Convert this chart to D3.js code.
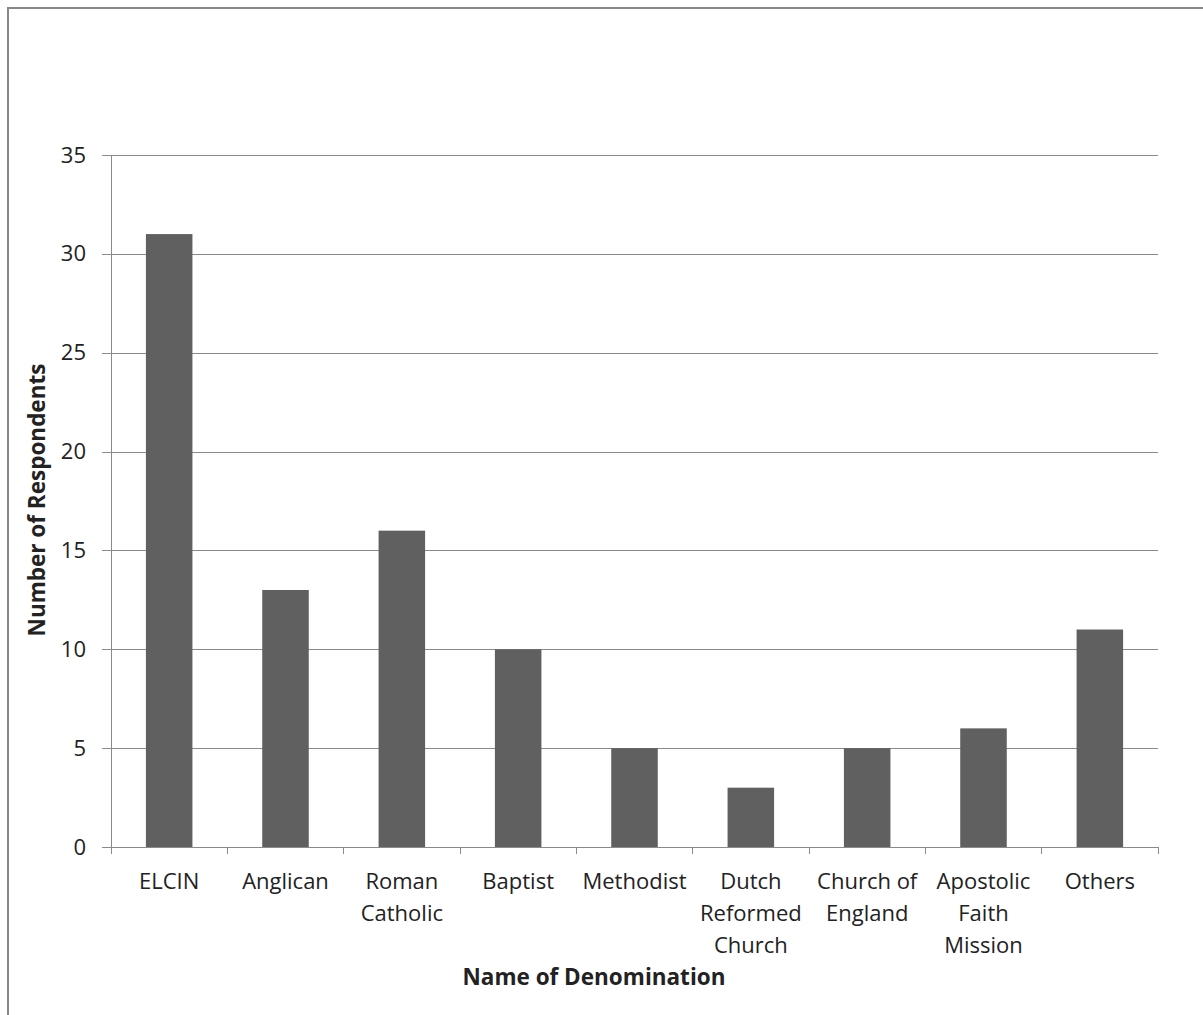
<!DOCTYPE html>
<html>
<head>
<meta charset="utf-8">
<script src="https://cdn.jsdelivr.net/npm/d3@7"></script>
<style>
  html, body { margin: 0; padding: 0; background: #fff; }
  svg { display: block; }
  text { font-family: "Open Sans", "Noto Sans", sans-serif; fill: #222; }
</style>
</head>
<body>
<svg id="chart" width="1203" height="1015"></svg>
<script>
const categories = ["ELCIN", "Anglican", "Roman Catholic", "Baptist", "Methodist",
  "Dutch Reformed Church", "Church of England", "Apostolic Faith Mission", "Others"];
const categoryLabelLines = [["ELCIN"], ["Anglican"], ["Roman", "Catholic"], ["Baptist"], ["Methodist"],
  ["Dutch", "Reformed", "Church"], ["Church of", "England"], ["Apostolic", "Faith", "Mission"], ["Others"]];
const respondents = [31, 13, 16, 10, 5, 3, 5, 6, 11];
const yTicks = [0, 5, 10, 15, 20, 25, 30, 35];
const yTitle = "Number of Respondents";
const xTitle = "Name of Denomination";

(function () {
const svg = d3.select("#chart");
const pLeft = 111, pRight = 1158, pTop = 155, pBottom = 847;

// outer frame
svg.append("rect").attr("x", 8).attr("y", 8).attr("width", 1220).attr("height", 1030)
  .attr("fill", "none").attr("stroke", "#888").attr("stroke-width", 2);

const x = d3.scaleBand().domain(categories).range([pLeft, pRight]).paddingInner(0.6).paddingOuter(0.3);
const y = d3.scaleLinear().domain([0, 35]).range([pBottom, pTop]);

// gridlines + y ticks
const yAxis = d3.axisLeft(y).tickValues(yTicks).tickSize(pRight - pLeft + 9).tickPadding(16).tickFormat(d3.format("d"));
const gy = svg.append("g").attr("transform", `translate(${pRight},0)`).call(yAxis);
gy.select(".domain").remove();
gy.selectAll(".tick line").attr("stroke", "#8a8a8a").attr("stroke-width", 1).attr("shape-rendering", "crispEdges");
gy.selectAll(".tick text").attr("font-size", 22).attr("fill", "#222").attr("font-family", "Open Sans");

// bars
svg.append("g").selectAll("rect").data(respondents).join("rect")
  .attr("x", (d, i) => x(categories[i]))
  .attr("y", d => y(d))
  .attr("width", x.bandwidth())
  .attr("height", d => y(0) - y(d))
  .attr("fill", "#606060");

// y axis line
svg.append("line").attr("x1", pLeft).attr("x2", pLeft).attr("y1", pTop).attr("y2", pBottom)
  .attr("stroke", "#8a8a8a").attr("shape-rendering", "crispEdges");

// x axis line & boundary ticks
const step = x.step();
svg.append("line").attr("x1", pLeft).attr("x2", pRight).attr("y1", pBottom).attr("y2", pBottom)
  .attr("stroke", "#8a8a8a").attr("shape-rendering", "crispEdges");
svg.append("g").selectAll("line").data(d3.range(categories.length + 1)).join("line")
  .attr("x1", i => pLeft + i * step).attr("x2", i => pLeft + i * step)
  .attr("y1", pBottom).attr("y2", pBottom + 7)
  .attr("stroke", "#8a8a8a").attr("shape-rendering", "crispEdges");

// x labels
const lbl = svg.append("g").selectAll("text").data(categories).join("text")
  .attr("text-anchor", "middle").attr("font-size", 22).attr("fill", "#222")
  .attr("transform", d => `translate(${x(d) + x.bandwidth() / 2},889)`);
lbl.each(function (d, i) {
  d3.select(this).selectAll("tspan").data(categoryLabelLines[i]).join("tspan")
    .attr("x", 0).attr("y", (t, j) => j * 32).text(t => t);
});

// titles
svg.append("text").attr("text-anchor", "middle").attr("font-size", 22.5).attr("font-weight", "bold")
  .attr("fill", "#111")
  .attr("transform", "translate(45,500) rotate(-90)").text(yTitle);
svg.append("text").attr("text-anchor", "middle").attr("font-size", 22.5).attr("font-weight", "bold")
  .attr("fill", "#111")
  .attr("x", 594).attr("y", 985).text(xTitle);
})();
</script>
</body>
</html>
